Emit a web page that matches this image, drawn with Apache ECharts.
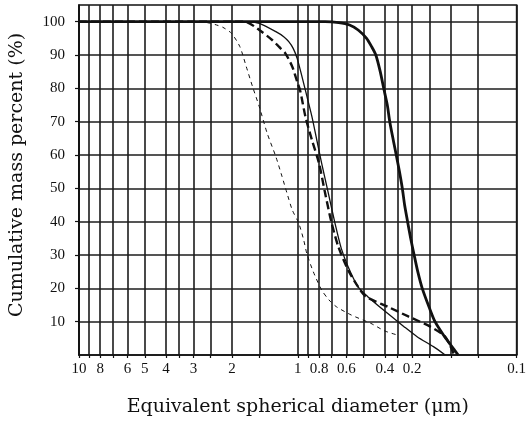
<!DOCTYPE html>
<html>
<head>
<meta charset="utf-8">
<script src="https://cdn.jsdelivr.net/npm/echarts@6/dist/echarts.min.js"></script>
<style>
  html, body { margin: 0; padding: 0; background: #fff; }
  #chart { width: 529px; height: 423px; }
</style>
</head>
<body>
<div id="chart"></div>
<script>
// Diameter grid (µm) on the reversed logarithmic axis
const xGridValues = [10, 9, 8, 7, 6, 5, 4, 3.5, 3, 2.5, 2, 1.5, 1, 0.9, 0.8, 0.7, 0.6, 0.5, 0.4, 0.35, 0.3, 0.25, 0.2, 0.15, 0.1];
// Printed diameter labels and the grid line each one sits under
const xLabelValues = [10, 8, 6, 5, 4, 3, 2, 1, 0.8, 0.6, 0.4, 0.3, 0.1];
const xLabelTexts = ['10', '8', '6', '5', '4', '3', '2', '1', '0.8', '0.6', '0.4', '0.2', '0.1'];
// Percent axis labels
const yLabelValues = [10, 20, 30, 40, 50, 60, 70, 80, 90, 100];

// Cumulative mass percent curves: [diameter µm, percent]
const curveHeavy = [[10, 100], [0.75, 100], [0.65, 99.7], [0.58, 99], [0.53, 97.5], [0.485, 95], [0.46, 92.5], [0.44, 90], [0.42, 85], [0.405, 80], [0.39, 75], [0.38, 70], [0.365, 64], [0.355, 60], [0.343, 55], [0.333, 50], [0.325, 45], [0.315, 40], [0.305, 35], [0.294, 30], [0.283, 25], [0.27, 20], [0.25, 14], [0.236, 10], [0.216, 6], [0.2, 3], [0.185, 0]];
const curveThin = [[10, 100], [1.7, 100], [1.5, 99.5], [1.26, 97], [1.16, 95.5], [1.1, 94], [1.05, 92], [1.007, 89], [0.957, 83.5], [0.908, 77.5], [0.862, 71.5], [0.819, 64.5], [0.778, 57.5], [0.725, 48.5], [0.676, 39.5], [0.633, 32], [0.589, 26.5], [0.531, 20.5], [0.479, 17.5], [0.389, 12.5], [0.327, 8.5], [0.285, 5.5], [0.24, 2.5], [0.212, 0]];
const curveDashed = [[10, 100], [1.75, 100], [1.5, 97.5], [1.31, 94.5], [1.22, 92.5], [1.14, 90.5], [1.06, 86.5], [1.007, 82], [0.973, 79], [0.923, 71.5], [0.862, 64.5], [0.8, 57.5], [0.75, 48.5], [0.703, 40], [0.653, 32.5], [0.589, 25.5], [0.531, 20.5], [0.488, 17.5], [0.389, 14.5], [0.311, 11.5], [0.248, 8.5], [0.212, 5.5], [0.193, 0]];
const curveFine = [[10, 100], [2.8, 100], [2.5, 99.5], [2.35, 99], [2.2, 98.3], [2.01, 96.5], [1.84, 92.5], [1.72, 86.5], [1.61, 80.5], [1.5, 74.5], [1.38, 66.5], [1.26, 59.5], [1.18, 53.5], [1.12, 48.5], [1.06, 43.5], [0.99, 39.5], [0.94, 34.5], [0.91, 30.5], [0.85, 25], [0.778, 19.5], [0.72, 16.5], [0.667, 14.5], [0.57, 12], [0.464, 9.5], [0.4, 7.2], [0.351, 6]];

const serif = 'Liberation Serif';
const titleSerif = 'DejaVu Serif';
const ink = '#111';

function labelFor(v) {
  for (let i = 0; i < xLabelValues.length; i++) {
    if (Math.abs(xLabelValues[i] - v) / xLabelValues[i] < 1e-6) return xLabelTexts[i];
  }
  return '';
}

function line(data, width, type) {
  return {
    type: 'line',
    data: data,
    showSymbol: false,
    smooth: 0.25,
    clip: true,
    lineStyle: { color: ink, width: width, type: type },
    z: 5
  };
}

const chart = echarts.init(document.getElementById('chart'), null, { renderer: 'canvas' });
chart.setOption({
  animation: false,
  backgroundColor: '#fff',
  grid: {
    left: 77, right: 9, top: 5, bottom: 68,
    show: true, borderColor: ink, borderWidth: 1.6, backgroundColor: 'transparent'
  },
  xAxis: {
    type: 'log',
    logBase: 10,
    min: 0.1,
    max: 10,
    inverse: true,
    name: 'Equivalent spherical diameter (μm)',
    nameLocation: 'middle',
    nameGap: 43,
    nameTextStyle: { fontFamily: titleSerif, fontSize: 19, color: ink },
    axisLine: { show: true, lineStyle: { color: ink, width: 1.6 } },
    axisTick: { show: true, inside: false, length: 3, customValues: xGridValues, lineStyle: { color: ink, width: 1.2 } },
    splitLine: { show: true, lineStyle: { color: '#1c1c1c', width: 1.6 } },
    minorTick: { show: false },
    minorSplitLine: { show: false },
    axisLabel: {
      customValues: xLabelValues,
      formatter: labelFor,
      interval: 0,
      hideOverlap: false,
      showMinLabel: true,
      showMaxLabel: true,
      margin: 7,
      fontFamily: serif,
      fontSize: 15,
      color: ink
    }
  },
  yAxis: {
    type: 'value',
    min: 0,
    max: 105,
    interval: 5,
    name: 'Cumulative mass percent (%)',
    nameLocation: 'middle',
    nameRotate: 90,
    nameGap: 52,
    nameTextStyle: { fontFamily: titleSerif, fontSize: 19, color: ink, padding: [0, 0, 0, 10] },
    axisLine: { show: true, lineStyle: { color: ink, width: 1.6 } },
    axisTick: { show: true, length: 4, customValues: yLabelValues, lineStyle: { color: ink, width: 1.2 } },
    splitLine: { show: true, lineStyle: { color: '#1c1c1c', width: 1.6 } },
    axisLabel: {
      customValues: yLabelValues,
      margin: 14,
      fontFamily: serif,
      fontSize: 15,
      color: ink
    }
  },
  series: [
    line(curveFine, 1, [4, 4]),
    line(curveThin, 1.3, 'solid'),
    line(curveDashed, 2.4, [8, 4]),
    line(curveHeavy, 2.8, 'solid')
  ]
});
</script>
</body>
</html>
